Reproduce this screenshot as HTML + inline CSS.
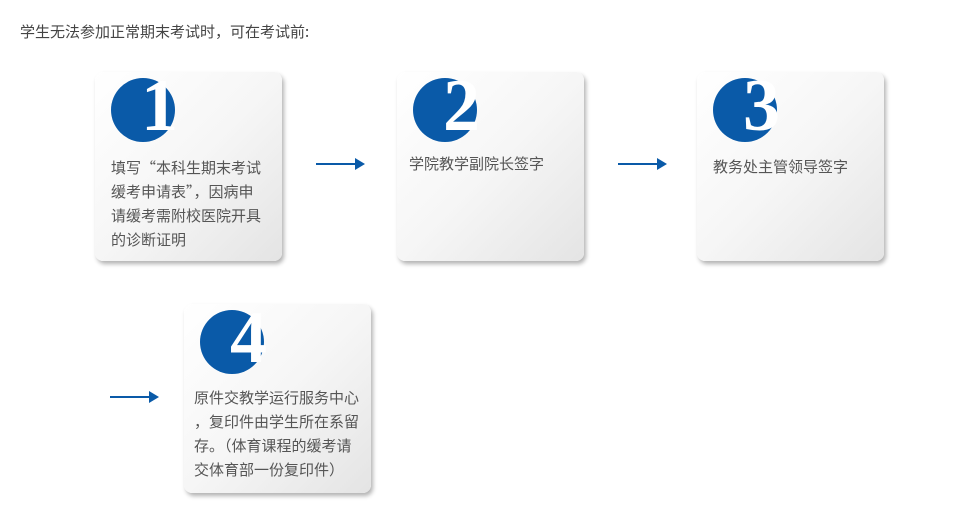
<!DOCTYPE html>
<html><head><meta charset="utf-8"><style>
body{margin:0;width:970px;height:530px;background:#fff;position:relative;overflow:hidden;font-family:"Liberation Sans","Noto Sans CJK SC",sans-serif;}
.t{position:absolute;left:20px;top:21px;font-size:15px;color:#444;}
.card{position:absolute;width:187px;height:189px;border-radius:8px;background:linear-gradient(135deg,#fff 0%,#f6f6f6 50%,#e4e4e4 100%);box-shadow:2px 3px 4px rgba(0,0,0,0.3);}
.c{position:absolute;left:16px;top:6px;width:64px;height:64px;border-radius:50%;background:#0a5aa8;}
.n{position:absolute;left:46px;top:-8px;font-family:"Liberation Serif",serif;color:#fff;font-size:74px;line-height:84px;font-weight:bold;}
.tx{position:absolute;left:16px;font-size:15px;color:#555;line-height:24px;white-space:nowrap;font-family:"Noto Sans CJK SC",sans-serif;}
.ar{position:absolute;height:2px;background:#0a5aa8;}
.ar:after{content:"";position:absolute;right:-2px;top:-5px;border-left:10px solid #0a5aa8;border-top:6px solid transparent;border-bottom:6px solid transparent;}
</style></head><body>
<div class="t" style="font-family:'Noto Sans CJK SC',sans-serif">学生无法参加正常期末考试时，可在考试前:</div>
<div class="card" style="left:95px;top:72px"><div class="c"></div><div class="n">1</div><div class="tx" style="top:84px">填写“本科生期末考试<br>缓考申请表”，因病申<br>请缓考需附校医院开具<br>的诊断证明</div></div>
<div class="card" style="left:397px;top:72px"><div class="c"></div><div class="n">2</div><div class="tx" style="top:80px;left:12px">学院教学副院长签字</div></div>
<div class="card" style="left:697px;top:72px"><div class="c"></div><div class="n">3</div><div class="tx" style="top:83px">教务处主管领导签字</div></div>
<div class="card" style="left:184px;top:304px"><div class="c"></div><div class="n">4</div><div class="tx" style="top:82px;left:10px">原件交教学运行服务中心<br>，复印件由学生所在系留<br>存。（体育课程的缓考请<br>交体育部一份复印件）</div></div>
<div class="ar" style="left:316px;top:163px;width:47px"></div>
<div class="ar" style="left:618px;top:163px;width:47px"></div>
<div class="ar" style="left:110px;top:396px;width:47px"></div>
</body></html>
